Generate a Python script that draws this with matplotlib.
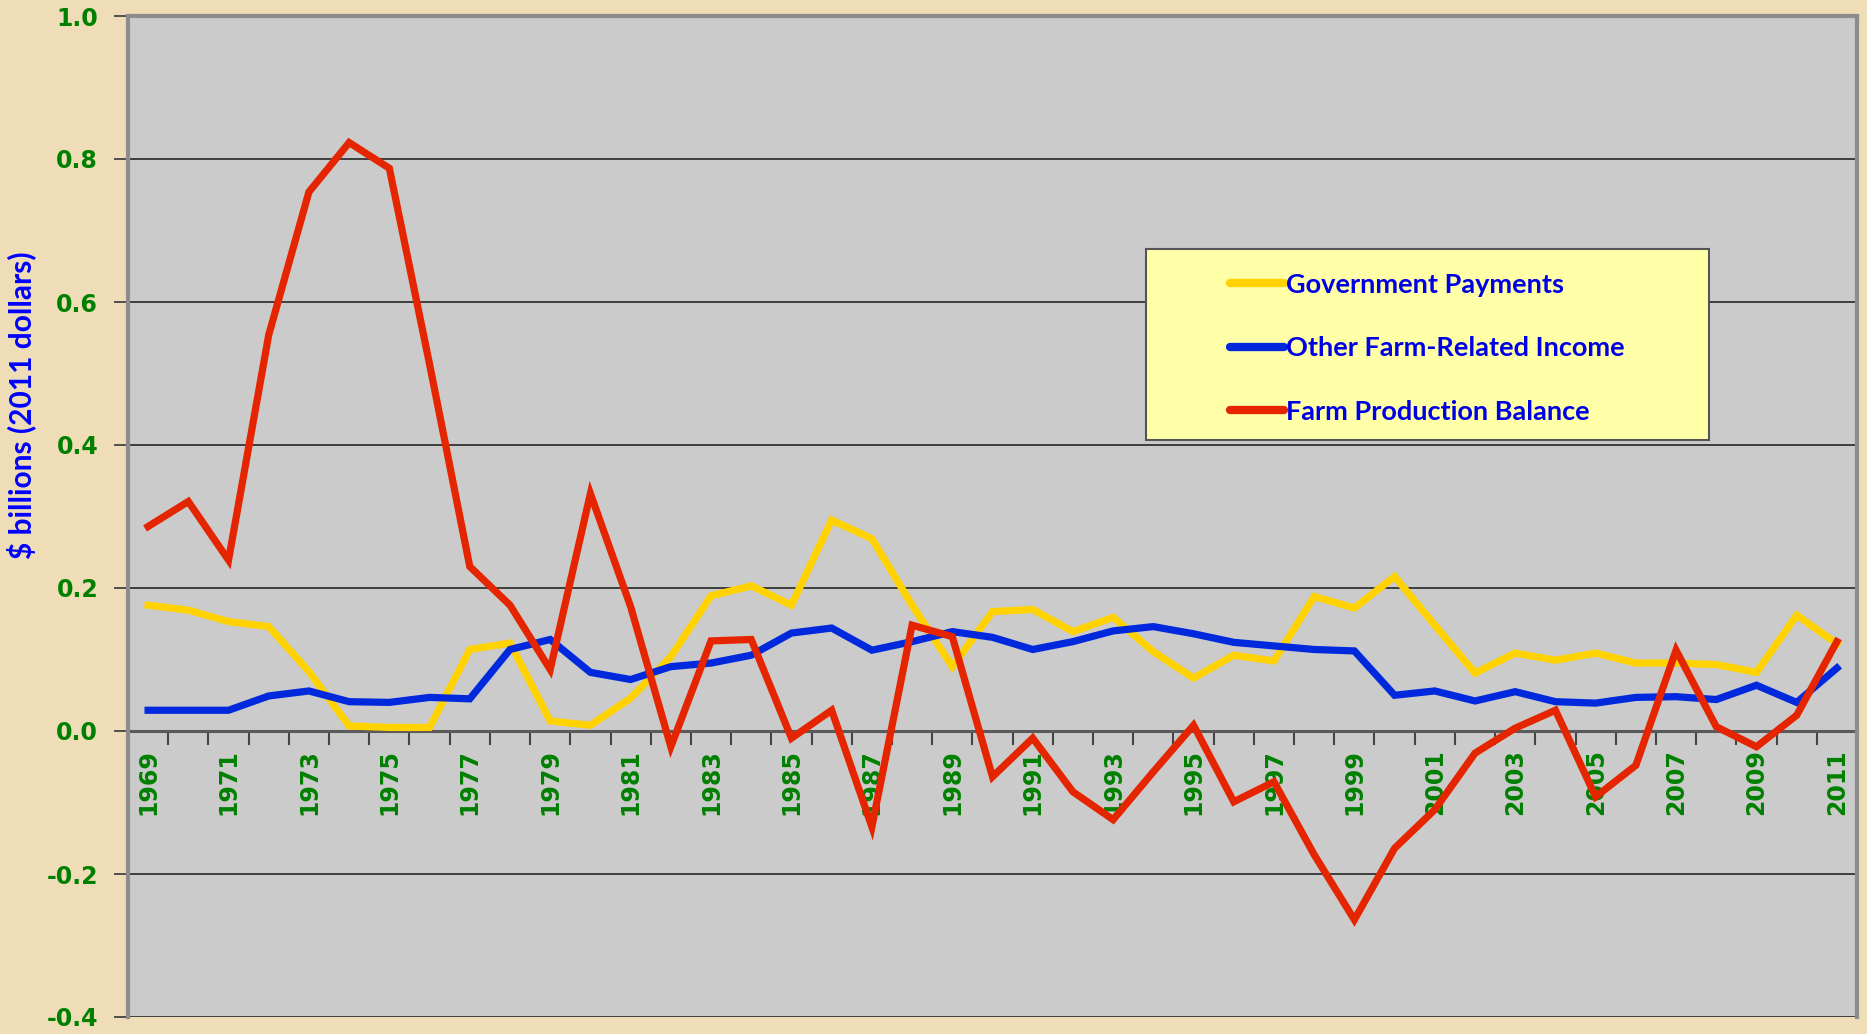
import matplotlib
matplotlib.use("Agg")
import matplotlib.pyplot as plt
from matplotlib.patches import Rectangle
import numpy as np

years = list(range(1969, 2012))

gov_payments = [0.176, 0.169, 0.153, 0.146, 0.083, 0.007, 0.005, 0.005, 0.114, 0.123,
                0.014, 0.008, 0.046, 0.104, 0.189, 0.203, 0.176, 0.295, 0.269, 0.176,
                0.090, 0.167, 0.170, 0.139, 0.159, 0.111, 0.074, 0.106, 0.098, 0.188,
                0.172, 0.216, 0.148, 0.081, 0.109, 0.099, 0.109, 0.095, 0.095, 0.093,
                0.082, 0.162, 0.122]

other_income = [0.029, 0.029, 0.029, 0.049, 0.056, 0.041, 0.040, 0.047, 0.045, 0.114,
                0.128, 0.082, 0.072, 0.090, 0.095, 0.106, 0.137, 0.144, 0.113, 0.125,
                0.139, 0.131, 0.114, 0.125, 0.140, 0.146, 0.136, 0.124, 0.119, 0.114,
                0.112, 0.050, 0.056, 0.042, 0.055, 0.041, 0.039, 0.047, 0.048, 0.044,
                0.064, 0.040, 0.088]

farm_balance = [0.286, 0.321, 0.239, 0.554, 0.754, 0.823, 0.787, 0.513, 0.230, 0.176,
                0.086, 0.332, 0.174, -0.022, 0.126, 0.128, -0.010, 0.029, -0.134, 0.148,
                0.132, -0.064, -0.010, -0.085, -0.124, -0.057, 0.008, -0.099, -0.071, -0.173,
                -0.264, -0.164, -0.110, -0.031, 0.004, 0.029, -0.092, -0.048, 0.113, 0.006,
                -0.022, 0.022, 0.125]

series_names = ["Government Payments", "Other Farm-Related Income", "Farm Production Balance"]
series_colors = ["#FFD200", "#0029DE", "#E52500"]

W, H = 1867, 1034
fig = plt.figure(figsize=(W / 100, H / 100), dpi=100)
fig.patch.set_facecolor("#EEDDB6")
ax = fig.add_axes([128 / W, 1 - 1017 / H, (1857 - 128) / W, (1017 - 16) / H])
ax.set_facecolor("#CBCBCB")

x = np.arange(len(years))
lines = []
for vals, name, col in zip([gov_payments, other_income, farm_balance], series_names, series_colors):
    ln, = ax.plot(x, vals, color=col, lw=5.2, solid_joinstyle="miter", label=name, zorder=3)
    lines.append(ln)

ax.set_xlim(-0.5, len(years) - 0.5)
ax.set_ylim(-0.4, 1.0)
ax.set_yticks(np.arange(-0.4, 1.01, 0.2))
ax.set_yticklabels([f"{v:.1f}" for v in np.arange(-0.4, 1.01, 0.2)])
ax.yaxis.grid(True, color="#333333", lw=1.3, zorder=1)
ax.set_axisbelow(True)

# x axis crosses at zero, labels sit inside the plot
ax.spines["bottom"].set_position(("data", 0))
ax.spines["bottom"].set_color("#5a5a5a")
ax.spines["bottom"].set_linewidth(2.2)
ax.spines["bottom"].set_zorder(2)
for s in ["left", "right", "top"]:
    ax.spines[s].set_color("#8c8c8c")
    ax.spines[s].set_linewidth(3)

ax.set_xticks(x[::2])
ax.set_xticklabels([str(y) for y in years[::2]], rotation=90)
ax.set_xticks(np.arange(-0.5, len(years), 1), minor=True)
ax.tick_params(axis="x", which="major", length=0, pad=13, labelsize=17, labelcolor="#008000")
ax.tick_params(axis="x", which="minor", length=10, width=1.5, color="#444444", direction="out")
for lab in ax.get_xticklabels():
    lab.set_fontweight("bold")

ax.tick_params(axis="y", length=10, width=1.3, color="#444444", pad=11.5,
               labelsize=17, labelcolor="#008000")
for lab in ax.get_yticklabels():
    lab.set_fontweight("bold")

fig.text(21 / W, 1 - 405 / H, r"\$ billions (2011 dollars)", rotation=90, color="#0000FF",
         fontsize=21.5, fontweight="bold", ha="center", va="center",
         family=["Lato", "DejaVu Sans"])

# legend box
box = Rectangle((1146 / W, 1 - 440 / H), (1709 - 1146) / W, (440 - 249) / H,
                transform=fig.transFigure, facecolor="#FFFFA8", edgecolor="#555555",
                lw=1.5, zorder=4)
fig.patches.append(box)
leg = fig.legend(handles=lines, loc="upper left", bbox_to_anchor=(1216 / W, 1 - 259 / H),
                 bbox_transform=fig.transFigure, frameon=False, borderpad=0,
                 handlelength=2.0, handletextpad=0.1, labelspacing=1.46,
                 prop={"family": "Lato", "weight": "bold", "size": 19.5})
for t in leg.get_texts():
    t.set_color("#0000E6")
for h in leg.get_lines():
    h.set_solid_capstyle("round")
    h.set_linewidth(6)
leg.set_zorder(5)

fig.savefig("out.png", dpi=100, facecolor=fig.get_facecolor())
